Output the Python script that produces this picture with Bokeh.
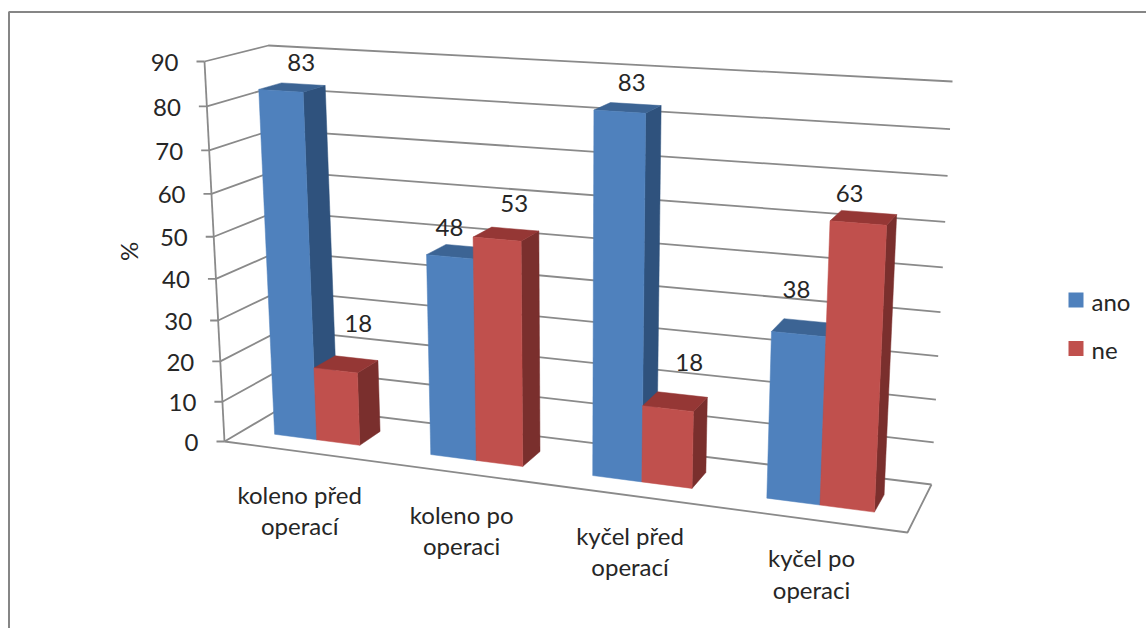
from bokeh.core.properties import value
from bokeh.embed import file_html
from bokeh.plotting import figure
from bokeh.resources import INLINE

# Chart content
categories = [["koleno před", "operací"], ["koleno po", "operaci"],
              ["kyčel před", "operací"], ["kyčel po", "operaci"]]
series_names = ["ano", "ne"]
ano = [83, 48, 83, 38]
ne = [18, 53, 18, 63]
y_ticks = [0, 10, 20, 30, 40, 50, 60, 70, 80, 90]
y_title = "%"

# Offsets of each value label from the centre of its bar's top, in pixels
ano_label_nudge = [(9, -25), (-10, -24), (4, -25), (-8, -38)]
ne_label_nudge = [(12, -41), (8, -31), (14, -39), (-14, -24)]

# Sideways correction of each category group along the floor, in category units
group_shift = [0, 0.03, 0.02, 0.005]

FONT = "Lato"
FONT_SIZE = "24px"
TEXT = "#262626"
GRID = "#8a8a8a"
Y_MAX = 90

# Screen corners of the 3D plot box
A, B, C, D = (224, 441), (907, 532), (931, 484), (285, 405)   # floor
E, H, G, F = (204, 61), (927, 102.4), (952, 81), (268, 45)    # ceiling


def quad_map(p0, p1, p2, p3):
    """Perspective map of the unit square onto a screen quadrilateral."""
    sx = p0[0] - p1[0] + p2[0] - p3[0]
    sy = p0[1] - p1[1] + p2[1] - p3[1]
    dx1, dy1 = p1[0] - p2[0], p1[1] - p2[1]
    dx2, dy2 = p3[0] - p2[0], p3[1] - p2[1]
    det = dx1 * dy2 - dx2 * dy1
    g = (sx * dy2 - dx2 * sy) / det
    h = (dx1 * sy - sx * dy1) / det
    a, b = p1[0] - p0[0] + g * p1[0], p3[0] - p0[0] + h * p3[0]
    d, e = p1[1] - p0[1] + g * p1[1], p3[1] - p0[1] + h * p3[1]

    def apply(s, t):
        w = g * s + h * t + 1
        return (a * s + b * t + p0[0]) / w, (d * s + e * t + p0[1]) / w

    return apply


floor_map = quad_map(A, B, C, D)
ceiling_map = quad_map(E, H, G, F)


def project(cat, val, depth):
    """Category position (0-4), value and depth (0 front, 1 back) to the screen."""
    s = cat / len(categories)
    z = val / Y_MAX
    z = z / (1 + 0.07 * (1 - z))
    x0, y0 = floor_map(s, depth)
    x1, y1 = ceiling_map(s, depth)
    return x0 + (x1 - x0) * z, y0 + (y1 - y0) * z


p = figure(width=1146, height=628, x_range=(0, 1146), y_range=(628, 0),
           output_backend="svg", toolbar_location=None, min_border=0)
p.xaxis.visible = False
p.yaxis.visible = False
p.xgrid.visible = False
p.ygrid.visible = False
p.outline_line_color = None

# Chart area border, open at the right and bottom
p.line([8.5, 8.5, 1146], [628, 11.5, 11.5], line_color="#868686", line_width=2)

# Gridlines on the side and back walls, plus the value axis with its ticks
for t in y_ticks:
    wall = [project(0, t, 0), project(0, t, 1), project(4, t, 1)]
    p.line([q[0] for q in wall], [q[1] for q in wall], line_color=GRID, line_width=1.8)
    fx, fy = project(0, t, 0)
    p.line([fx - 8, fx], [fy, fy], line_color=GRID, line_width=1.8)
    p.text([fx - 26], [fy + 1], text=[str(t)], text_font=value(FONT), text_font_size=FONT_SIZE,
           text_color=TEXT, text_align="right", text_baseline="middle")
axis = [project(0, 0, 0), project(0, Y_MAX, 0)]
p.line([q[0] for q in axis], [q[1] for q in axis], line_color=GRID, line_width=1.8)
edge = [project(0, 0, 0), project(4, 0, 0), project(4, 0, 1)]
p.line([q[0] for q in edge], [q[1] for q in edge], line_color=GRID, line_width=1.8)

p.text([128], [251], text=[y_title], angle=[1.5708], text_font=value(FONT), text_font_size=FONT_SIZE,
       text_color=TEXT, text_align="center", text_baseline="middle")

NEAR, FAR = 0.3, 0.665


def draw_bar(cat, left, right, val, front, top, side):
    u0, u1 = cat + left, cat + right
    faces = [
        ([(u1, 0, NEAR), (u1, 0, FAR), (u1, val, FAR), (u1, val, NEAR)], side),
        ([(u0, val, NEAR), (u1, val, NEAR), (u1, val, FAR), (u0, val, FAR)], top),
        ([(u0, 0, NEAR), (u1, 0, NEAR), (u1, val, NEAR), (u0, val, NEAR)], front),
    ]
    for corners, colour in faces:
        pts = [project(*c) for c in corners]
        p.patch([q[0] for q in pts], [q[1] for q in pts], fill_color=colour, line_color=colour,
                line_width=0.5)


# Bars, from the left so that nearer faces overlap correctly
BAR = 1 / 3.5
GAP = 0.75 * BAR
blue = ("#4f81bd", "#3c6494", "#2f527d")
red = ("#c0504d", "#953735", "#7a2f2d")
for i in range(len(categories)):
    c = i + group_shift[i]
    draw_bar(c, GAP, GAP + BAR, ano[i], *blue)
    draw_bar(c, GAP + BAR, GAP + 2 * BAR, ne[i], *red)

# Value labels
for i in range(len(categories)):
    c = i + group_shift[i]
    for vals, nudges, left in ((ano, ano_label_nudge, GAP), (ne, ne_label_nudge, GAP + BAR)):
        x, y = project(c + left + BAR / 2, vals[i], (NEAR + FAR) / 2)
        p.text([x + nudges[i][0]], [y + nudges[i][1]], text=[str(vals[i])], text_font=value(FONT),
               text_font_size=FONT_SIZE, text_color=TEXT, text_align="center", text_baseline="middle")

# Category labels, two lines each, hung below the front floor edge
for i, lines in enumerate(categories):
    x, y = project(i + group_shift[i] + 0.5, 0, 0)
    for row, line in enumerate(lines):
        p.text([x + 1], [y + 43 - 1.6 * i + 31.5 * row], text=[line], text_font=value(FONT),
               text_font_size=FONT_SIZE, text_color=TEXT, text_align="center",
               text_baseline="alphabetic")

# Legend
for name, colour, cy in zip(series_names, (blue[0], red[0]), (299.5, 348)):
    p.rect([1075.5], [cy], width=15, height=15, fill_color=colour, line_color=None)
    p.text([1091], [cy + 1], text=[name], text_font=value(FONT), text_font_size=FONT_SIZE,
           text_color=TEXT, text_align="left", text_baseline="middle")

open("out.html", "w").write(file_html(p, INLINE))
